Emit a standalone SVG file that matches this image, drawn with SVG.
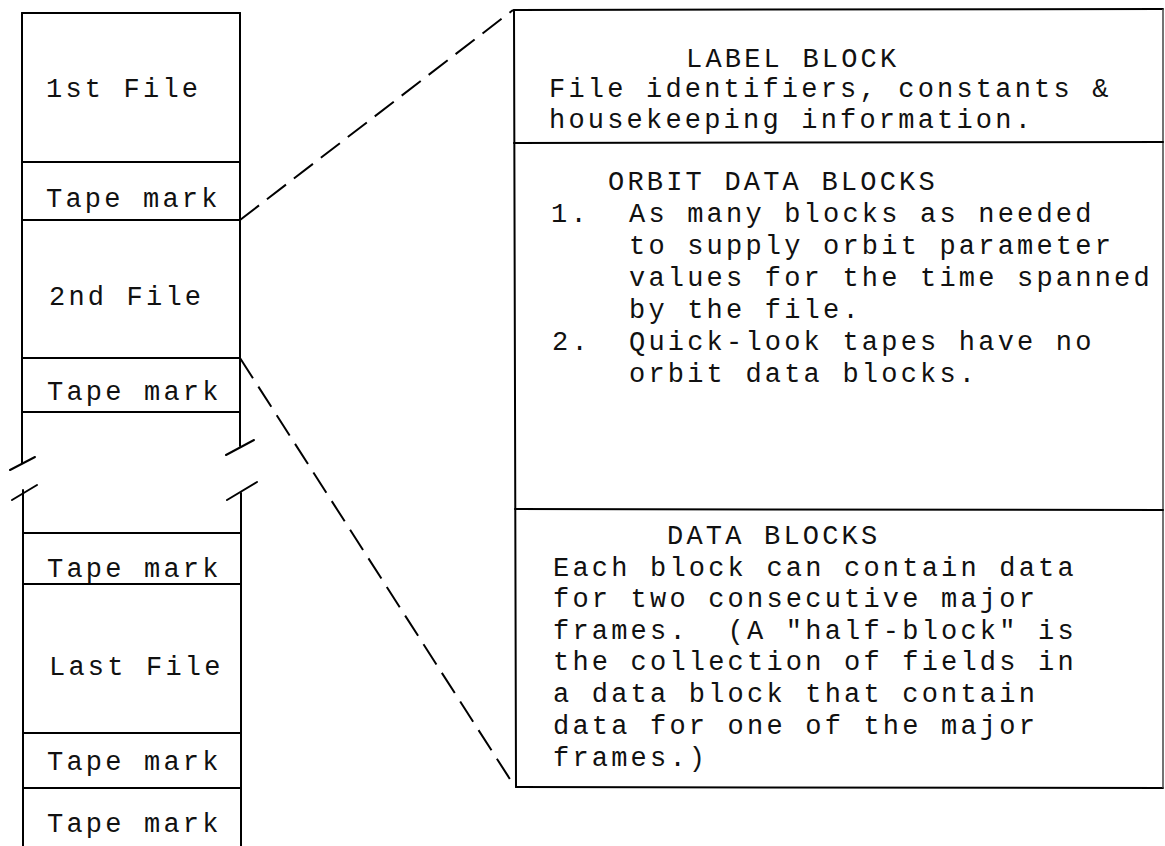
<svg xmlns="http://www.w3.org/2000/svg" width="1165" height="846" viewBox="0 0 1165 846">
<style>
  .ln { stroke: #000; stroke-width: 2; fill: none; stroke-linecap: round; }
  .faint { stroke: #444; stroke-width: 1.5; fill: none; }
  .dash { stroke: #000; stroke-width: 2; fill: none; stroke-dasharray: 24 10; }
  .t { font-family: "Liberation Mono", "Courier New", monospace; font-size: 27px; letter-spacing: 3.2px; fill: #111; }
</style>
<rect width="1165" height="846" fill="#fff"/>

<!-- Left tape column -->
<g id="tape-column">
  <line class="ln" x1="22" y1="13" x2="240" y2="13"/>
  <line class="ln" x1="22" y1="13" x2="22" y2="463"/>
  <line class="ln" x1="240" y1="13" x2="240" y2="446"/>
  <line class="ln" x1="23" y1="490" x2="23" y2="846"/>
  <line class="ln" x1="241" y1="493" x2="241" y2="846"/>
  <line class="ln" x1="10" y1="470" x2="35" y2="457"/>
  <line class="ln" x1="12" y1="500" x2="37" y2="485"/>
  <line class="ln" x1="226" y1="455" x2="254" y2="440"/>
  <line class="ln" x1="227" y1="500" x2="257" y2="482"/>
</g>
<g id="file1">
  <line class="ln" x1="22" y1="162" x2="240" y2="162"/>
  <text class="t" x="46" y="97">1st File</text>
</g>
<g id="tapemark1">
  <line class="ln" x1="22" y1="220" x2="240" y2="220"/>
  <text class="t" x="46" y="207">Tape mark</text>
</g>
<g id="file2">
  <line class="ln" x1="22" y1="358" x2="240" y2="358"/>
  <text class="t" x="49" y="305">2nd File</text>
</g>
<g id="tapemark2">
  <line class="ln" x1="22" y1="412" x2="240" y2="412"/>
  <text class="t" x="47" y="400">Tape mark</text>
</g>
<g id="tapemark3">
  <line class="ln" x1="23" y1="533" x2="241" y2="533"/>
  <line class="ln" x1="23" y1="584" x2="241" y2="584"/>
  <text class="t" x="47" y="577">Tape mark</text>
</g>
<g id="lastfile">
  <line class="ln" x1="23" y1="733" x2="241" y2="733"/>
  <text class="t" x="49" y="675">Last File</text>
</g>
<g id="tapemark4">
  <line class="ln" x1="23" y1="788" x2="241" y2="788"/>
  <text class="t" x="47" y="770">Tape mark</text>
</g>
<g id="tapemark5">
  <text class="t" x="47" y="832">Tape mark</text>
</g>

<!-- Right expanded file panel -->
<g id="panel-frame">
  <line class="ln" x1="514" y1="10" x2="1163" y2="9"/>
  <line class="ln" x1="514" y1="10" x2="516" y2="787"/>
  <line class="ln" x1="516" y1="787" x2="1163" y2="788"/>
  <line class="faint" x1="1163" y1="9" x2="1163" y2="788"/>
</g>
<g id="label-block">
  <line class="ln" x1="514" y1="143" x2="1163" y2="142"/>
  <text class="t" x="686" y="67">LABEL BLOCK</text>
  <text class="t" x="549" y="97">File identifiers, constants &amp;</text>
  <text class="t" x="549" y="128">housekeeping information.</text>
</g>
<g id="orbit-data-blocks">
  <line class="ln" x1="515" y1="509" x2="1163" y2="510"/>
  <text class="t" x="608" y="190">ORBIT DATA BLOCKS</text>
  <text class="t" x="551" y="222">1.</text>
  <text class="t" x="629" y="222">As many blocks as needed</text>
  <text class="t" x="629" y="254">to supply orbit parameter</text>
  <text class="t" x="629" y="286">values for the time spanned</text>
  <text class="t" x="629" y="318">by the file.</text>
  <text class="t" x="552" y="350">2.</text>
  <text class="t" x="629" y="350">Quick-look tapes have no</text>
  <text class="t" x="629" y="382">orbit data blocks.</text>
</g>
<g id="data-blocks">
  <text class="t" x="667" y="544">DATA BLOCKS</text>
  <text class="t" x="553" y="576">Each block can contain data</text>
  <text class="t" x="553" y="607">for two consecutive major</text>
  <text class="t" x="553" y="639" xml:space="preserve">frames.  (A "half-block" is</text>
  <text class="t" x="553" y="670">the collection of fields in</text>
  <text class="t" x="553" y="702">a data block that contain</text>
  <text class="t" x="553" y="734">data for one of the major</text>
  <text class="t" x="553" y="766">frames.)</text>
</g>

<!-- Connectors (expansion lines) -->
<g id="connectors">
  <line class="dash" x1="240" y1="220" x2="513" y2="10"/>
  <line class="dash" x1="240" y1="358" x2="515" y2="787"/>
</g>
</svg>
